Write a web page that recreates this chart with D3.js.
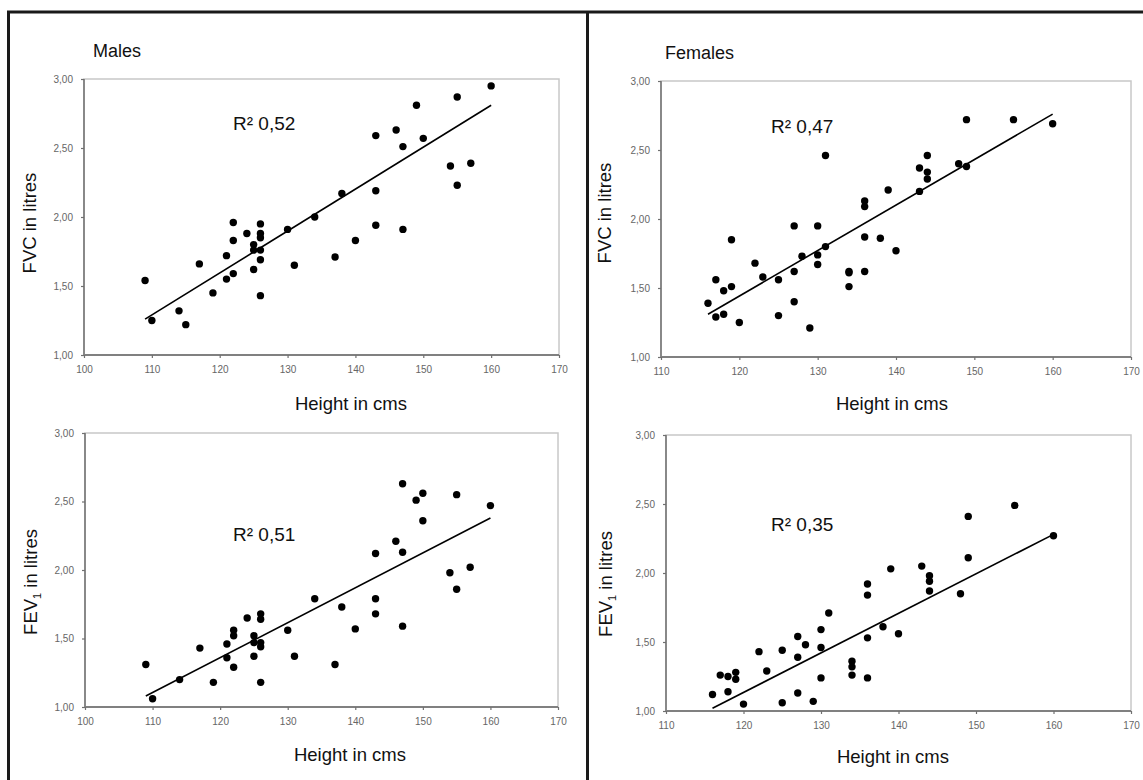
<!DOCTYPE html>
<html>
<head>
<meta charset="utf-8">
<script src="https://cdn.jsdelivr.net/npm/d3@7"></script>
<style>
  html, body { margin: 0; padding: 0; background: #fff; }
  svg { display: block; }
</style>
</head>
<body>
<script>
'use strict';

// --- data ----------------------------------------------------------------

const maleFvcHeight = [109,110,114,115,117,119,121,121,122,122,122,124,125,125,125,126,126,126,126,126,126,130,131,134,137,138,140,143,143,143,146,147,147,149,150,154,155,155,157,160];
const maleFvc = [1.54,1.25,1.32,1.22,1.66,1.45,1.72,1.55,1.96,1.83,1.59,1.88,1.80,1.76,1.62,1.95,1.88,1.85,1.76,1.69,1.43,1.91,1.65,2.00,1.71,2.17,1.83,2.59,2.19,1.94,2.63,2.51,1.91,2.81,2.57,2.37,2.87,2.23,2.39,2.95];

const femaleFvcHeight = [116,117,117,118,118,119,119,120,122,123,125,125,127,127,127,128,129,130,130,130,131,131,134,134,134,136,136,136,136,138,139,140,143,143,144,144,144,148,149,149,155,160];
const femaleFvc = [1.39,1.56,1.29,1.48,1.31,1.85,1.51,1.25,1.68,1.58,1.56,1.30,1.95,1.62,1.40,1.73,1.21,1.95,1.74,1.67,1.80,2.46,1.62,1.61,1.51,2.13,2.09,1.87,1.62,1.86,2.21,1.77,2.20,2.37,2.46,2.34,2.29,2.40,2.38,2.72,2.72,2.69];

const maleFevHeight = [109,110,114,117,119,121,121,122,122,122,124,125,125,125,126,126,126,126,126,130,131,134,137,138,140,143,143,143,146,147,147,147,149,150,150,154,155,155,157,160];
const maleFev = [1.31,1.06,1.20,1.43,1.18,1.46,1.36,1.56,1.52,1.29,1.65,1.52,1.47,1.37,1.68,1.64,1.47,1.44,1.18,1.56,1.37,1.79,1.31,1.73,1.57,2.12,1.79,1.68,2.21,2.63,2.13,1.59,2.51,2.56,2.36,1.98,2.55,1.86,2.02,2.47];

const femaleFevHeight = [116,117,118,118,119,119,120,122,123,125,125,127,127,127,128,129,130,130,130,131,134,134,134,136,136,136,136,138,139,140,143,144,144,144,148,149,149,155,160];
const femaleFev = [1.12,1.26,1.25,1.14,1.28,1.23,1.05,1.43,1.29,1.44,1.06,1.54,1.39,1.13,1.48,1.07,1.59,1.46,1.24,1.71,1.36,1.32,1.26,1.92,1.84,1.53,1.24,1.61,2.03,1.56,2.05,1.98,1.94,1.87,1.85,2.41,2.11,2.49,2.27];

// trendline ends as drawn in the original: [height, litres]
const maleFvcTrend = [[109, 1.26], [160, 2.81]];
const femaleFvcTrend = [[116, 1.31], [160, 2.76]];
const maleFevTrend = [[109, 1.08], [160, 2.38]];
const femaleFevTrend = [[116, 1.02], [160, 2.28]];

const rSquared = ['0,52', '0,47', '0,51', '0,35'];
const groupTitles = ['Males', 'Females'];
const maleHeightTicks = [100, 110, 120, 130, 140, 150, 160, 170];
const femaleHeightTicks = [110, 120, 130, 140, 150, 160, 170];
const litreTicks = [1, 1.5, 2, 2.5, 3];

// --- setup ---------------------------------------------------------------

const W = 1143, H = 780;
const FONT = 'Arial, "Liberation Sans", sans-serif';
const comma = d3.formatLocale({ decimal: ',', thousands: '.', grouping: [3], currency: ['', ''] }).format('.2f');

const svg = d3.select('body').append('svg')
  .attr('width', W).attr('height', H)
  .attr('viewBox', `0 0 ${W} ${H}`);
svg.append('rect').attr('width', W).attr('height', H).attr('fill', '#fff');

function panel(p) {
  const g = svg.append('g');
  const x = d3.scaleLinear().domain(d3.extent(p.ticks)).range([p.left, p.right]);
  const y = d3.scaleLinear().domain([1, 3]).range([p.bottom, p.top]);

  // light plot frame (top/right)
  g.append('rect')
    .attr('x', p.left).attr('y', p.top)
    .attr('width', p.right - p.left).attr('height', p.bottom - p.top)
    .attr('fill', 'none').attr('stroke', '#c8c8c8').attr('stroke-width', 1.5);

  const xAxis = g.append('g')
    .attr('transform', `translate(0,${p.bottom})`)
    .call(d3.axisBottom(x).tickValues(p.ticks).tickFormat(d3.format('d')).tickSize(3).tickPadding(8));
  const yAxis = g.append('g')
    .attr('transform', `translate(${p.left},0)`)
    .call(d3.axisLeft(y).tickValues(litreTicks).tickFormat(comma).tickSize(3).tickPadding(8));
  [xAxis, yAxis].forEach(a => {
    a.select('.domain').attr('stroke', '#808080').attr('stroke-width', 1.8);
    a.selectAll('.tick line').attr('stroke', '#707070').attr('stroke-width', 1.2);
    a.selectAll('.tick text')
      .attr('fill', '#666').style('font-family', FONT).style('font-size', '10px');
  });
  xAxis.selectAll('.domain').attr('d', `M${p.left},0H${p.right}`);
  yAxis.selectAll('.domain').attr('d', `M0,${p.bottom}V${p.top}`);

  g.append('line')
    .attr('x1', x(p.trend[0][0])).attr('y1', y(p.trend[0][1]))
    .attr('x2', x(p.trend[1][0])).attr('y2', y(p.trend[1][1]))
    .attr('stroke', '#000').attr('stroke-width', 1.6);

  g.append('g').selectAll('circle')
    .data(p.hs.map((h, i) => [h, p.vs[i]]))
    .join('circle')
    .attr('cx', d => x(d[0])).attr('cy', d => y(d[1]))
    .attr('r', 3.7).attr('fill', '#000');

  g.append('text')
    .attr('x', p.r2x).attr('y', p.r2y)
    .style('font-family', FONT).style('font-size', '19px').attr('fill', '#111')
    .text(`R² ${p.r2}`);

  g.append('text')
    .attr('x', p.xlabX).attr('y', p.xlabY)
    .attr('text-anchor', 'middle')
    .style('font-family', FONT).style('font-size', '18.5px').attr('fill', '#111')
    .text('Height in cms');

  const yl = g.append('text')
    .attr('transform', `translate(${p.ylabX},${p.ylabY}) rotate(-90)`)
    .attr('text-anchor', 'middle')
    .style('font-family', FONT).style('font-size', '18.5px').attr('fill', '#111');
  if (p.fev) {
    yl.append('tspan').text('FEV');
    yl.append('tspan').attr('font-size', '11px').attr('dy', 4).text('1');
    yl.append('tspan').attr('dy', -4).text(' in litres');
  } else {
    yl.text('FVC in litres');
  }

  if (p.title) {
    g.append('text')
      .attr('x', p.titleX).attr('y', p.titleY)
      .style('font-family', FONT).style('font-size', '18px').attr('fill', '#111')
      .text(p.title);
  }
}

panel({ hs: maleFvcHeight, vs: maleFvc, trend: maleFvcTrend, ticks: maleHeightTicks,
  left: 84, right: 559, top: 79, bottom: 355,
  r2: rSquared[0], r2x: 233, r2y: 130, xlabX: 351, xlabY: 410, ylabX: 36, ylabY: 223,
  title: groupTitles[0], titleX: 93, titleY: 57 });

panel({ hs: femaleFvcHeight, vs: femaleFvc, trend: femaleFvcTrend, ticks: femaleHeightTicks,
  left: 661, right: 1131, top: 81, bottom: 357,
  r2: rSquared[1], r2x: 771, r2y: 133, xlabX: 892, xlabY: 410, ylabX: 611, ylabY: 213,
  title: groupTitles[1], titleX: 665, titleY: 59 });

panel({ hs: maleFevHeight, vs: maleFev, trend: maleFevTrend, ticks: maleHeightTicks, fev: true,
  left: 85, right: 558, top: 433, bottom: 707,
  r2: rSquared[2], r2x: 233, r2y: 541, xlabX: 350, xlabY: 761, ylabX: 37, ylabY: 582 });

panel({ hs: femaleFevHeight, vs: femaleFev, trend: femaleFevTrend, ticks: femaleHeightTicks, fev: true,
  left: 666, right: 1131, top: 435, bottom: 711,
  r2: rSquared[3], r2x: 771, r2y: 531, xlabX: 893, xlabY: 763, ylabX: 612, ylabY: 584 });

// outer frame: top rule, left rule and the centre divider
const frame = svg.append('g').attr('stroke', '#1a1a1a').attr('stroke-width', 3);
frame.append('line').attr('x1', 7).attr('y1', 12).attr('x2', W).attr('y2', 12);
frame.append('line').attr('x1', 8.5).attr('y1', 11).attr('x2', 8.5).attr('y2', H);
frame.append('line').attr('x1', 587.5).attr('y1', 11).attr('x2', 587.5).attr('y2', H);
</script>
</body>
</html>
